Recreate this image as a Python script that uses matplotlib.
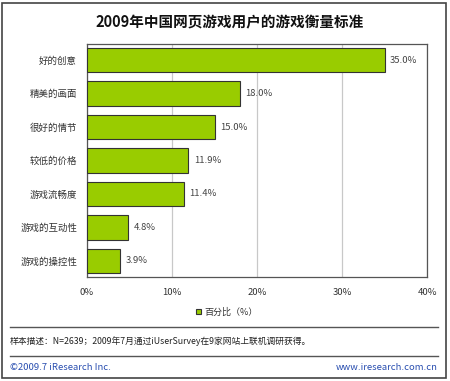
import matplotlib
matplotlib.use("Agg")
import matplotlib.pyplot as plt
from matplotlib.lines import Line2D
from matplotlib.patches import Rectangle

plt.rcParams['font.family'] = ['Noto Sans CJK SC', 'DejaVu Sans']

# data
categories = ['好的创意', '精美的画面', '很好的情节', '较低的价格', '游戏流畅度', '游戏的互动性', '游戏的操控性']
values = [35.0, 18.0, 15.0, 11.9, 11.4, 4.8, 3.9]
xticks = [0, 10, 20, 30, 40]
xtick_labels = ['0%', '10%', '20%', '30%', '40%']
series_name = '百分比（%）'

title = '2009年中国网页游戏用户的游戏衡量标准'
source = '样本描述：N=2639；2009年7月通过iUserSurvey在9家网站上联机调研获得。'
footer_left = '©2009.7 iResearch Inc.'
footer_right = 'www.iresearch.com.cn'

W, H = 450, 381
fig = plt.figure(figsize=(W / 100, H / 100), dpi=100)
ax = fig.add_axes([87 / W, 1 - 277 / H, 340 / W, 233 / H])

pos = list(range(len(categories)))
bars = ax.barh(pos, values, height=0.72, color='#99cc00', edgecolor='#333333',
               linewidth=0.8, label=series_name, zorder=3)
ax.bar_label(bars, labels=['%.1f%%' % v for v in values], padding=4,
             fontsize=6.8, color='#444444')

ax.set_ylim(6.48, -0.48)
ax.set_yticks(pos)
ax.set_yticklabels(categories, fontsize=6.8, color='#333333')
ax.set_xlim(0, 40)
ax.set_xticks(xticks)
ax.set_xticklabels(xtick_labels, fontsize=6.8, color='#333333')
ax.tick_params(axis='y', length=0, pad=7)
ax.tick_params(axis='x', length=0, pad=8)
ax.grid(axis='x', color='#c8c8c8', linewidth=0.9, zorder=0)
for s in ax.spines.values():
    s.set_color('#555555')
    s.set_linewidth(0.9)

fig.text(0.51, 1 - 22 / H, title, ha='center', va='center', fontsize=10.5,
         fontweight='bold', color='#111111')

fig.legend(handles=[bars], labels=[series_name], loc='center',
           bbox_to_anchor=(227 / W, 1 - 312 / H), frameon=False, fontsize=6.5,
           handlelength=0.6, handleheight=0.6, handletextpad=0.4,
           labelcolor='#333333')

# separator lines and frame
for yy in (327, 356):
    fig.add_artist(Line2D([10 / W, 438 / W], [1 - yy / H, 1 - yy / H],
                          transform=fig.transFigure, color='#555555', linewidth=1.0))
fig.add_artist(Rectangle((2 / W, 3 / H), 444 / W, 375 / H, transform=fig.transFigure,
                         fill=False, edgecolor='#444444', linewidth=1.2))

fig.text(10 / W, 1 - 341 / H, source, ha='left', va='center', fontsize=6.3, color='#222222')
fig.text(10 / W, 1 - 368 / H, footer_left, ha='left', va='center', fontsize=6.8, color='#2a4fb0')
fig.text(438 / W, 1 - 368 / H, footer_right, ha='right', va='center', fontsize=6.8, color='#2a4fb0')

fig.savefig('out.png', dpi=100)
